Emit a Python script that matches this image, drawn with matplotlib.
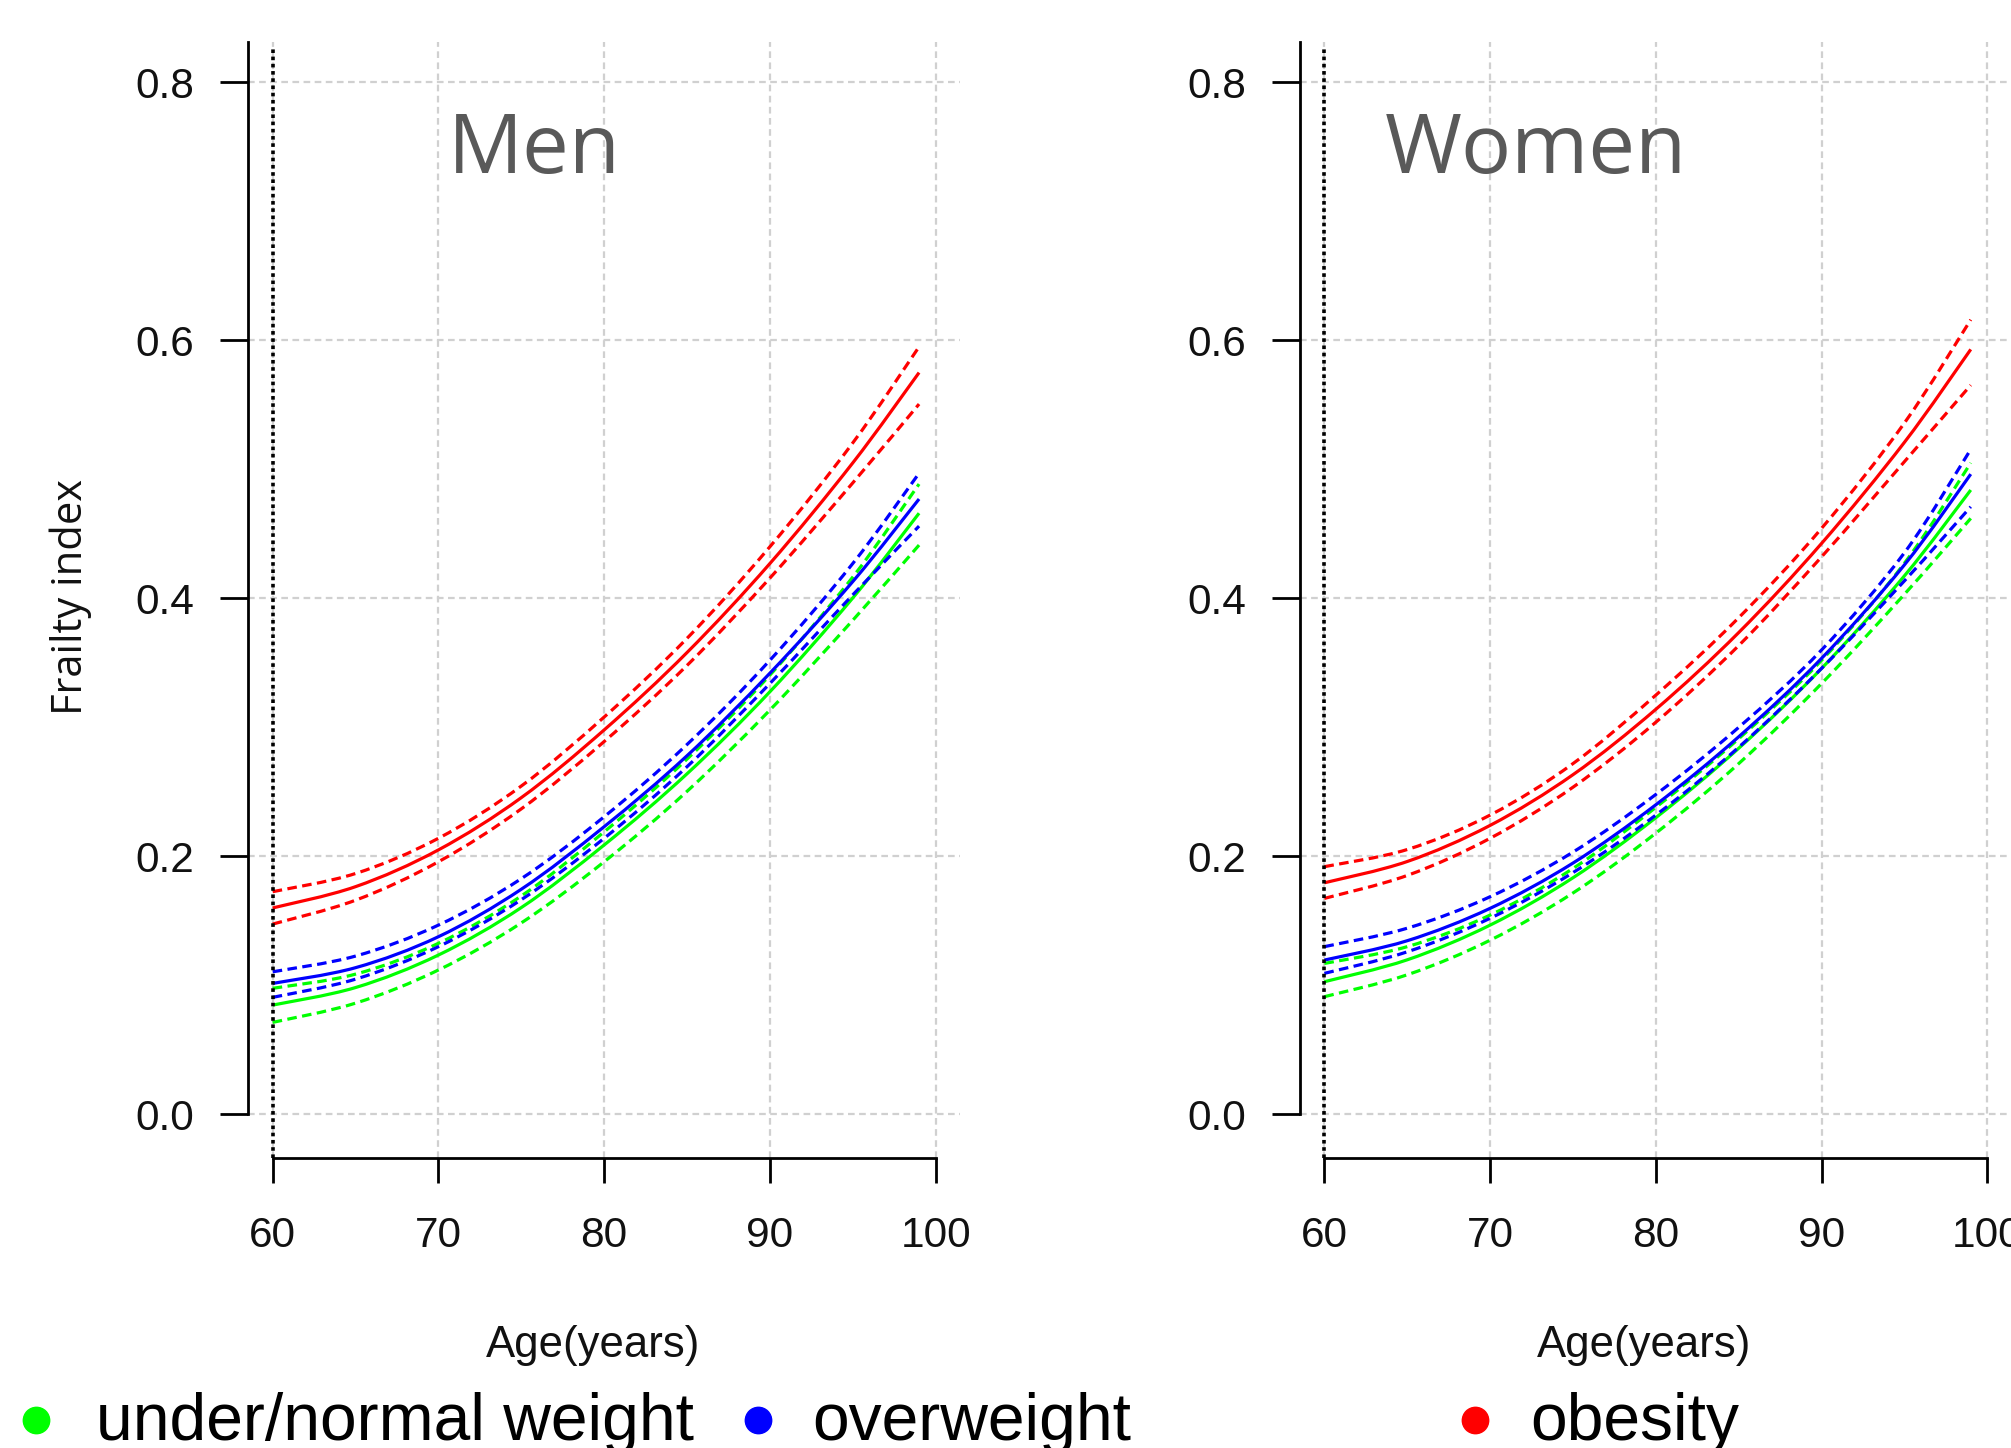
import matplotlib
matplotlib.use("Agg")
import matplotlib.pyplot as plt
from matplotlib.lines import Line2D
from matplotlib.path import Path
from matplotlib.patches import PathPatch

# ---------------- data ----------------
ages = [60, 65, 70, 75, 80, 85, 90, 95, 99]

men_obese = [0.160, 0.1765, 0.205, 0.2455, 0.298, 0.358, 0.427, 0.505, 0.575]
men_obese_hi = [0.1726, 0.1867, 0.214, 0.2545, 0.308, 0.369, 0.440, 0.5205, 0.595]
men_obese_lo = [0.1475, 0.166, 0.1958, 0.2368, 0.289, 0.348, 0.4157, 0.4895, 0.5506]
men_over = [0.1015, 0.1137, 0.1377, 0.1745, 0.223, 0.278, 0.342, 0.413, 0.477]
men_over_hi = [0.1105, 0.1227, 0.1467, 0.1827, 0.2307, 0.2867, 0.352, 0.427, 0.497]
men_over_lo = [0.0907, 0.1048, 0.130, 0.1664, 0.214, 0.2695, 0.334, 0.4027, 0.456]
men_norm = [0.0847, 0.0983, 0.1235, 0.1603, 0.2088, 0.264, 0.3276, 0.4003, 0.466]
men_norm_hi = [0.0977, 0.1087, 0.1326, 0.1693, 0.219, 0.2754, 0.3405, 0.4165, 0.4886]
men_norm_lo = [0.0713, 0.0862, 0.1119, 0.1484, 0.1958, 0.2504, 0.3134, 0.383, 0.4413]

women_obese = [0.1795, 0.196, 0.224, 0.2633, 0.314, 0.3735, 0.4426, 0.521, 0.593]
women_obese_hi = [0.192, 0.2053, 0.232, 0.2719, 0.325, 0.385, 0.4543, 0.536, 0.616]
women_obese_lo = [0.1674, 0.1852, 0.214, 0.2536, 0.304, 0.3634, 0.4322, 0.506, 0.5653]
women_over = [0.1196, 0.1346, 0.1597, 0.1948, 0.240, 0.2927, 0.3535, 0.426, 0.4963]
women_over_hi = [0.130, 0.1443, 0.1687, 0.2033, 0.248, 0.300, 0.360, 0.4354, 0.5155]
women_over_lo = [0.1093, 0.126, 0.152, 0.1874, 0.232, 0.2846, 0.3457, 0.4136, 0.471]
women_norm = [0.1028, 0.1198, 0.1467, 0.1834, 0.230, 0.2838, 0.3457, 0.4175, 0.484]
women_norm_hi = [0.117, 0.130, 0.1545, 0.1906, 0.238, 0.2912, 0.352, 0.4273, 0.505]
women_norm_lo = [0.0912, 0.1082, 0.135, 0.1716, 0.218, 0.2719, 0.334, 0.4032, 0.462]

x_ticks = [60, 70, 80, 90, 100]
y_ticks = [0.0, 0.2, 0.4, 0.6, 0.8]
y_ticklabels = ["0.0", "0.2", "0.4", "0.6", "0.8"]
group_labels = ["under/normal weight", "overweight", "obesity"]
group_colors = ["#00ff00", "#0000ff", "#ff0000"]
panel_titles = ["Men", "Women"]


def smooth_path(xs, ys):
    """Catmull-Rom curve through the given points, as cubic Bezier path."""
    pts = list(zip(xs, ys))
    n = len(pts)
    verts = [pts[0]]
    codes = [Path.MOVETO]
    for i in range(n - 1):
        p0 = pts[i - 1] if i > 0 else pts[i]
        p1 = pts[i]
        p2 = pts[i + 1]
        p3 = pts[i + 2] if i + 2 < n else pts[i + 1]
        c1 = (p1[0] + (p2[0] - p0[0]) / 6, p1[1] + (p2[1] - p0[1]) / 6)
        c2 = (p2[0] - (p3[0] - p1[0]) / 6, p2[1] - (p3[1] - p1[1]) / 6)
        verts += [c1, c2, p2]
        codes += [Path.CURVE4] * 3
    return Path(verts, codes)


# ---------------- figure ----------------
W, H = 2011, 1448
fig = plt.figure(figsize=(W / 100, H / 100), dpi=100)

XMIN, XMAX = 58.53, 101.47
YMIN, YMAX = -0.0336, 0.8315
ax_w = (960 - 248.3) / W
ax_b = 1 - 1157.7 / H
ax_h = (1157.7 - 41.7) / H
axes = [fig.add_axes([248.3 / W, ax_b, ax_w, ax_h]),
        fig.add_axes([1300 / W, ax_b, ax_w, ax_h])]

panels = [
    [(men_norm, men_norm_hi, men_norm_lo), (men_over, men_over_hi, men_over_lo),
     (men_obese, men_obese_hi, men_obese_lo)],
    [(women_norm, women_norm_hi, women_norm_lo), (women_over, women_over_hi, women_over_lo),
     (women_obese, women_obese_hi, women_obese_lo)],
]

LW = 2.3
DASH = (0, (3, 1.7))
tick_font = "Liberation Sans"
for ax, series in zip(axes, panels):
    ax.set_xlim(XMIN, XMAX)
    ax.set_ylim(YMIN, YMAX)
    for (mid, hi, lo), col in zip(series, group_colors):
        ax.add_patch(PathPatch(smooth_path(ages, mid), fill=False, edgecolor=col,
                               lw=LW, zorder=3))
        ax.add_patch(PathPatch(smooth_path(ages, hi), fill=False, edgecolor=col,
                               lw=LW, ls=DASH, zorder=3))
        ax.add_patch(PathPatch(smooth_path(ages, lo), fill=False, edgecolor=col,
                               lw=LW, ls=DASH, zorder=3))
    ax.axvline(60, ymin=0, ymax=(0.826 - YMIN) / (YMAX - YMIN), color="black",
               lw=2.6, ls=(0, (1.0, 1.0)), zorder=4)
    ax.set_xticks(x_ticks)
    ax.set_yticks(y_ticks)
    ax.set_yticklabels(y_ticklabels)
    ax.grid(True, color="#d0d0d0", lw=1.6, ls=(0, (3, 2)), zorder=1)
    ax.set_axisbelow(True)
    for s in ["top", "right"]:
        ax.spines[s].set_visible(False)
    ax.spines["left"].set_bounds(0, YMAX)
    ax.spines["bottom"].set_bounds(60, 100)
    ax.spines["left"].set_linewidth(2.0)
    ax.spines["bottom"].set_linewidth(2.0)
    ax.tick_params(axis="y", direction="out", length=20, width=2.0, pad=19,
                   labelsize=30.5)
    ax.tick_params(axis="x", direction="out", length=18, width=2.0, pad=24,
                   labelsize=30.5)
    for lab in ax.get_xticklabels() + ax.get_yticklabels():
        lab.set_fontfamily(tick_font)
        lab.set_color("#111111")
    ax.patch.set_visible(False)

# panel titles
fig.text(448 / W, 1 - 152 / H, panel_titles[0], fontsize=60, color="#595959",
         family="Open Sans", ha="left", va="center")
fig.text(1385 / W, 1 - 152 / H, panel_titles[1], fontsize=60, color="#595959",
         family="Open Sans", ha="left", va="center")

# axis labels
fig.text(71 / W, 1 - 597 / H, "Frailty index", rotation=90, fontsize=30,
         family="Open Sans", ha="center", va="center", color="#111111")
for xc in (593, 1644):
    fig.text(xc / W, 1 - 1345 / H, "Age(years)", fontsize=31.5,
             family=tick_font, ha="center", va="center", color="#111111")

# legend
marker_x = [36, 758, 1475]
text_x = [96, 812, 1530]
for mx, tx, lab, col in zip(marker_x, text_x, group_labels, group_colors):
    fig.add_artist(Line2D([mx / W], [1 - 1420 / H], marker="o", markersize=19,
                          color=col, ls="none", transform=fig.transFigure))
    fig.text(tx / W, 1 - 1423 / H, lab, fontsize=47.5, family=tick_font,
             ha="left", va="center", color="black")

fig.savefig("out.png", dpi=100)
